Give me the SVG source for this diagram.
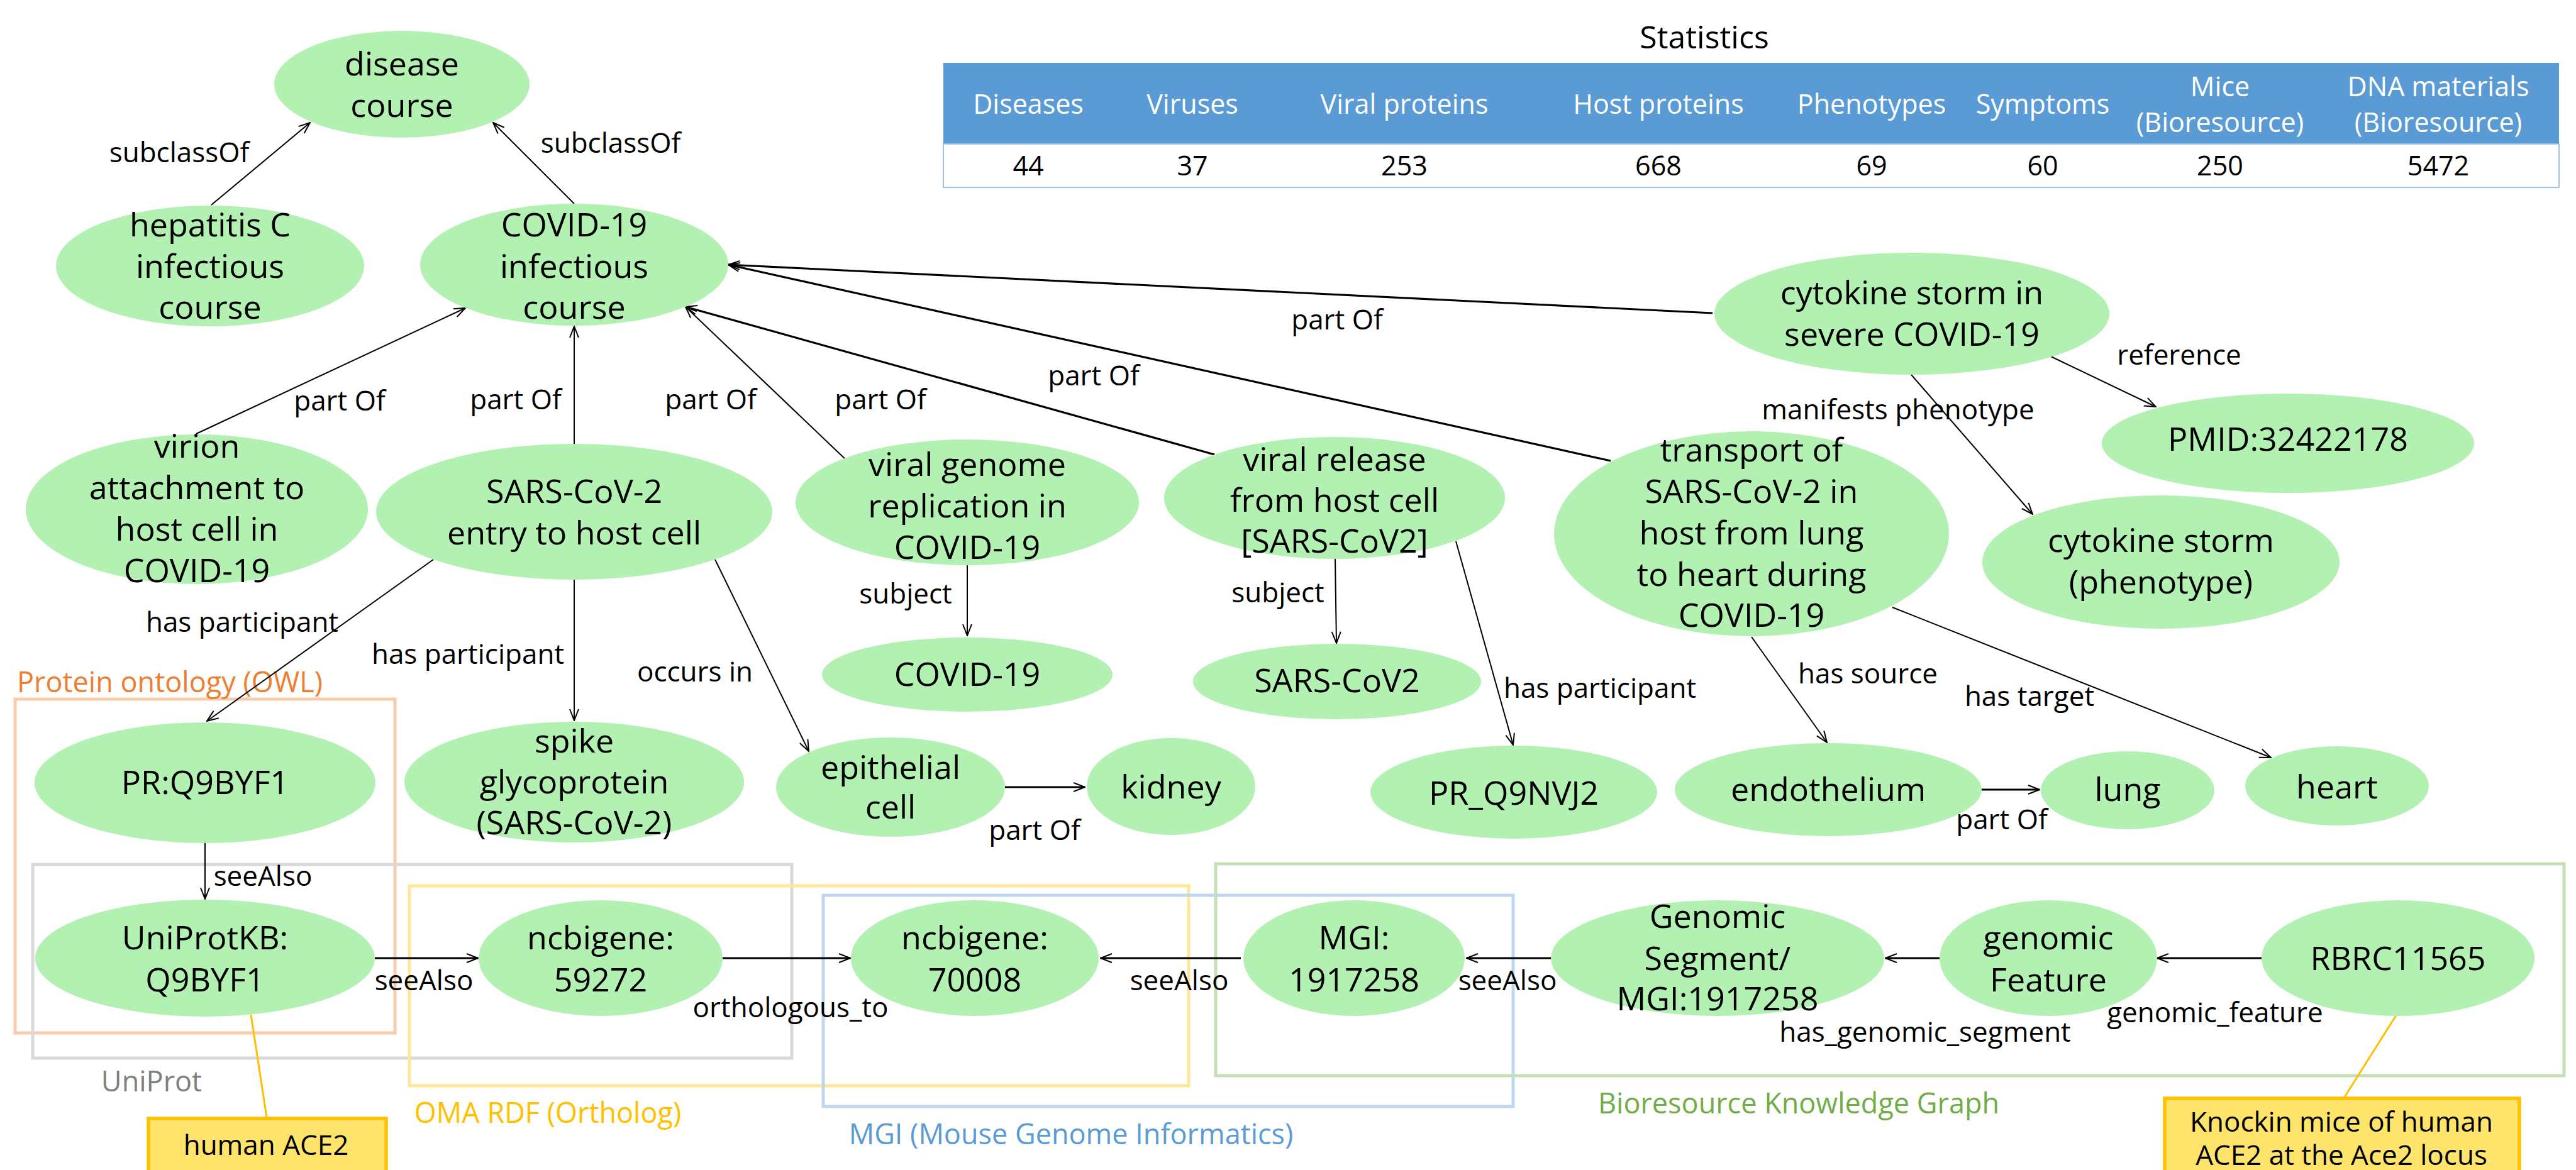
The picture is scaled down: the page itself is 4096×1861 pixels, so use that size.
<svg xmlns="http://www.w3.org/2000/svg" width="4096" height="1861" viewBox="0 0 4096 1861">
<defs>
<style>
text{font-family:"Open Sans","Noto Sans","DejaVu Sans",sans-serif;}
.n ellipse{fill:#B2F1B2;}
.n text{font-size:52px;fill:#000;text-anchor:middle;}
.lbl{font-size:44px;fill:#000;text-anchor:middle;}
.c line{stroke:#000;stroke-width:2;fill:none;marker-end:url(#arr);}
.c line.t{stroke-width:3.2;}
.box{fill:none;stroke-width:5;}
.glbl{font-size:45px;text-anchor:middle;}
.th{font-size:43px;fill:#fff;text-anchor:middle;}
.td{font-size:43px;fill:#000;text-anchor:middle;}
.call{fill:#FFE46C;stroke:#FFC000;stroke-width:5.5;}
.ctext{font-size:44px;fill:#000;text-anchor:middle;}
</style>
<marker id="arr" viewBox="0 0 20 20" refX="19" refY="10" markerWidth="20" markerHeight="20" markerUnits="userSpaceOnUse" orient="auto">
<path d="M1,3 L19,10 L1,17" fill="none" stroke="#000" stroke-width="2"/>
</marker>
</defs>
<rect x="0" y="0" width="4096" height="1861" fill="#fff"/>

<!-- Statistics table -->
<g id="statistics">
<text x="2710" y="77" style="font-size:50px;text-anchor:middle;fill:#000">Statistics</text>
<rect x="1500" y="100" width="2569" height="129" fill="#5B9BD5"/>
<rect x="1500" y="229" width="2569" height="69" fill="#fff" stroke="#9DC3E6" stroke-width="2"/>
<text class="th" x="1635" y="181">Diseases</text>
<text class="th" x="1896" y="181">Viruses</text>
<text class="th" x="2233" y="181">Viral proteins</text>
<text class="th" x="2637" y="181">Host proteins</text>
<text class="th" x="2976" y="181">Phenotypes</text>
<text class="th" x="3248" y="181">Symptoms</text>
<text class="th" x="3530" y="153">Mice</text>
<text class="th" x="3530" y="210">(Bioresource)</text>
<text class="th" x="3877" y="153">DNA materials</text>
<text class="th" x="3877" y="210">(Bioresource)</text>
<text class="td" x="1635" y="279">44</text>
<text class="td" x="1896" y="279">37</text>
<text class="td" x="2233" y="279">253</text>
<text class="td" x="2637" y="279">668</text>
<text class="td" x="2976" y="279">69</text>
<text class="td" x="3248" y="279">60</text>
<text class="td" x="3530" y="279">250</text>
<text class="td" x="3877" y="279">5472</text>
</g>

<!-- Group boxes -->
<g id="groups">
<rect class="box" x="24" y="1112" width="604" height="531" stroke="#F8CBAD"/>
<rect class="box" x="52" y="1375" width="1207" height="308" stroke="#D9D9D9"/>
<rect class="box" x="651" y="1409" width="1239" height="318" stroke="#FFE699"/>
<rect class="box" x="1309" y="1424" width="1097" height="336" stroke="#BDD7EE"/>
<rect class="box" x="1933" y="1374" width="2144" height="337" stroke="#C5E0B4"/>
<text class="glbl" x="270" y="1101" fill="#ED7D31">Protein ontology (OWL)</text>
<text class="glbl" x="241" y="1736" fill="#808080">UniProt</text>
<text class="glbl" x="871" y="1786" fill="#FFC000">OMA RDF (Ortholog)</text>
<text class="glbl" x="1703" y="1820" fill="#5B9BD5">MGI (Mouse Genome Informatics)</text>
<text class="glbl" x="2860" y="1771" fill="#70AD47">Bioresource Knowledge Graph</text>
</g>

<!-- Connectors -->
<g id="connectors" class="c">
<line x1="336" y1="326" x2="493" y2="195"/>
<line x1="913" y1="324" x2="784" y2="195"/>
<line x1="312" y1="690" x2="740" y2="490"/>
<line x1="913" y1="707" x2="913" y2="519"/>
<line x1="1347" y1="733" x2="1090" y2="488"/>
<line class="t" x1="1931" y1="723" x2="1090" y2="488"/>
<line class="t" x1="2561" y1="733" x2="1158" y2="421"/>
<line class="t" x1="2723" y1="498" x2="1158" y2="421"/>
<line x1="3261" y1="567" x2="3428" y2="647"/>
<line x1="3039" y1="596" x2="3232" y2="818"/>
<line x1="689" y1="890" x2="329" y2="1147"/>
<line x1="913" y1="922" x2="913" y2="1146"/>
<line x1="1137" y1="890" x2="1286" y2="1195"/>
<line x1="1538" y1="899" x2="1538" y2="1011"/>
<line x1="2123" y1="889" x2="2125" y2="1023"/>
<line x1="2315" y1="861" x2="2406" y2="1185"/>
<line x1="2785" y1="1013" x2="2905" y2="1181"/>
<line x1="3009" y1="966" x2="3611" y2="1205"/>
<line class="t" x1="1598" y1="1252" x2="1725" y2="1252"/>
<line class="t" x1="3151" y1="1256" x2="3243" y2="1256"/>
<line x1="326" y1="1341" x2="326" y2="1430"/>
<line class="t" x1="596" y1="1524" x2="760" y2="1524"/>
<line class="t" x1="1148" y1="1524" x2="1352" y2="1524"/>
<line class="t" x1="1973" y1="1524" x2="1750" y2="1524"/>
<line class="t" x1="2466" y1="1524" x2="2332" y2="1524"/>
<line class="t" x1="3084" y1="1524" x2="2998" y2="1524"/>
<line class="t" x1="3596" y1="1524" x2="3430" y2="1524"/>
</g>

<!-- Callout leader lines -->
<g id="callout-lines">
<line x1="399" y1="1614" x2="424" y2="1777" stroke="#FFC000" stroke-width="3"/>
<line x1="3815" y1="1607" x2="3728" y2="1745" stroke="#FFC000" stroke-width="3"/>
</g>

<!-- Nodes -->
<g id="disease-course" class="n"><ellipse cx="639" cy="134" rx="203" ry="85"/><text x="639" y="120">disease</text><text x="639" y="186">course</text></g>
<g id="hepatitis-c" class="n"><ellipse cx="334" cy="423" rx="245" ry="96"/><text x="334" y="376">hepatitis C</text><text x="334" y="442">infectious</text><text x="334" y="507">course</text></g>
<g id="covid-infectious" class="n"><ellipse cx="913" cy="421" rx="245" ry="97"/><text x="913" y="376">COVID-19</text><text x="913" y="442">infectious</text><text x="913" y="507">course</text></g>
<g id="virion" class="n"><ellipse cx="313" cy="810" rx="272" ry="119"/><text x="313" y="728">virion</text><text x="313" y="794">attachment to</text><text x="313" y="860">host cell in</text><text x="313" y="926">COVID-19</text></g>
<g id="sars-entry" class="n"><ellipse cx="913" cy="814" rx="315" ry="108"/><text x="913" y="800">SARS-CoV-2</text><text x="913" y="866">entry to host cell</text></g>
<g id="viral-genome" class="n"><ellipse cx="1538" cy="799" rx="273" ry="100"/><text x="1538" y="757">viral genome</text><text x="1538" y="823">replication in</text><text x="1538" y="889">COVID-19</text></g>
<g id="viral-release" class="n"><ellipse cx="2122" cy="792" rx="271" ry="97"/><text x="2122" y="749">viral release</text><text x="2122" y="814">from host cell</text><text x="2122" y="879">[SARS-CoV2]</text></g>
<g id="transport" class="n"><ellipse cx="2785" cy="849" rx="314" ry="163"/><text x="2785" y="734">transport of</text><text x="2785" y="800">SARS-CoV-2 in</text><text x="2785" y="866">host from lung</text><text x="2785" y="932">to heart during</text><text x="2785" y="997">COVID-19</text></g>
<g id="cytokine-severe" class="n"><ellipse cx="3040" cy="499" rx="314" ry="97"/><text x="3040" y="484">cytokine storm in</text><text x="3040" y="550">severe COVID-19</text></g>
<g id="pmid" class="n"><ellipse cx="3638" cy="705" rx="296" ry="79"/><text x="3638" y="717">PMID:32422178</text></g>
<g id="cytokine-phenotype" class="n"><ellipse cx="3436" cy="894" rx="284" ry="106"/><text x="3436" y="878">cytokine storm</text><text x="3436" y="944">(phenotype)</text></g>
<g id="pr-q9byf1" class="n"><ellipse cx="326" cy="1245" rx="271" ry="96"/><text x="326" y="1263">PR:Q9BYF1</text></g>
<g id="spike" class="n"><ellipse cx="913" cy="1244" rx="270" ry="96"/><text x="913" y="1197">spike</text><text x="913" y="1262">glycoprotein</text><text x="913" y="1327">(SARS-CoV-2)</text></g>
<g id="covid19" class="n"><ellipse cx="1538" cy="1073" rx="231" ry="59"/><text x="1538" y="1091">COVID-19</text></g>
<g id="sars-cov2" class="n"><ellipse cx="2126" cy="1084" rx="229" ry="60"/><text x="2126" y="1101">SARS-CoV2</text></g>
<g id="epithelial" class="n"><ellipse cx="1416" cy="1252" rx="182" ry="79"/><text x="1416" y="1239">epithelial</text><text x="1416" y="1302">cell</text></g>
<g id="kidney" class="n"><ellipse cx="1862" cy="1251" rx="134" ry="77"/><text x="1862" y="1270">kidney</text></g>
<g id="pr-q9nvj2" class="n"><ellipse cx="2407" cy="1260" rx="228" ry="74"/><text x="2407" y="1280">PR_Q9NVJ2</text></g>
<g id="endothelium" class="n"><ellipse cx="2907" cy="1256" rx="244" ry="74"/><text x="2907" y="1274">endothelium</text></g>
<g id="lung" class="n"><ellipse cx="3383" cy="1257" rx="138" ry="62"/><text x="3383" y="1274">lung</text></g>
<g id="heart" class="n"><ellipse cx="3716" cy="1250" rx="146" ry="63"/><text x="3716" y="1270">heart</text></g>
<g id="uniprotkb" class="n"><ellipse cx="326" cy="1524" rx="270" ry="93"/><text x="326" y="1510">UniProtKB:</text><text x="326" y="1577">Q9BYF1</text></g>
<g id="ncbigene-59272" class="n"><ellipse cx="955" cy="1524" rx="194" ry="92"/><text x="955" y="1510">ncbigene:</text><text x="955" y="1577">59272</text></g>
<g id="ncbigene-70008" class="n"><ellipse cx="1550" cy="1524" rx="197" ry="92"/><text x="1550" y="1510">ncbigene:</text><text x="1550" y="1577">70008</text></g>
<g id="mgi" class="n"><ellipse cx="2153" cy="1524" rx="176" ry="92"/><text x="2153" y="1510">MGI:</text><text x="2153" y="1577">1917258</text></g>
<g id="genomic-segment" class="n"><ellipse cx="2731" cy="1524" rx="265" ry="92"/><text x="2731" y="1476">Genomic</text><text x="2731" y="1543">Segment/</text><text x="2731" y="1607">MGI:1917258</text></g>
<g id="genomic-feature" class="n"><ellipse cx="3257" cy="1524" rx="173" ry="92"/><text x="3257" y="1510">genomic</text><text x="3257" y="1577">Feature</text></g>
<g id="rbrc" class="n"><ellipse cx="3813" cy="1524" rx="217" ry="92"/><text x="3813" y="1543">RBRC11565</text></g>

<!-- Callouts -->
<g id="callout-human-ace2">
<rect class="call" x="236" y="1779" width="378" height="110"/>
<text class="ctext" x="423" y="1837">human ACE2</text>
</g>
<g id="callout-knockin">
<rect class="call" x="3442" y="1747" width="564" height="140"/>
<text class="ctext" x="3723" y="1800">Knockin mice of human</text>
<text class="ctext" x="3723" y="1853">ACE2 at the Ace2 locus</text>
</g>

<!-- Edge labels -->
<g id="edge-labels">
<text class="lbl" x="285" y="258">subclassOf</text>
<text class="lbl" x="971" y="243">subclassOf</text>
<text class="lbl" x="540" y="653">part Of</text>
<text class="lbl" x="820" y="651">part Of</text>
<text class="lbl" x="1130" y="651">part Of</text>
<text class="lbl" x="1400" y="651">part Of</text>
<text class="lbl" x="1739" y="613">part Of</text>
<text class="lbl" x="2126" y="524">part Of</text>
<text class="lbl" x="3465" y="580">reference</text>
<text class="lbl" x="3018" y="667">manifests phenotype</text>
<text class="lbl" x="385" y="1005">has participant</text>
<text class="lbl" x="744" y="1056">has participant</text>
<text class="lbl" x="1105" y="1084" fill="#333">occurs in</text>
<text class="lbl" x="1440" y="960">subject</text>
<text class="lbl" x="2032" y="958">subject</text>
<text class="lbl" x="2544" y="1110">has participant</text>
<text class="lbl" x="2970" y="1087">has source</text>
<text class="lbl" x="3227" y="1123">has target</text>
<text class="lbl" x="1645" y="1336">part Of</text>
<text class="lbl" x="3183" y="1319">part Of</text>
<text class="lbl" x="418" y="1409">seeAlso</text>
<text class="lbl" x="674" y="1575">seeAlso</text>
<text class="lbl" x="1257" y="1618">orthologous_to</text>
<text class="lbl" x="1875" y="1575">seeAlso</text>
<text class="lbl" x="2397" y="1575">seeAlso</text>
<text class="lbl" x="3061" y="1657">has_genomic_segment</text>
<text class="lbl" x="3522" y="1626">genomic_feature</text>
</g>
</svg>
